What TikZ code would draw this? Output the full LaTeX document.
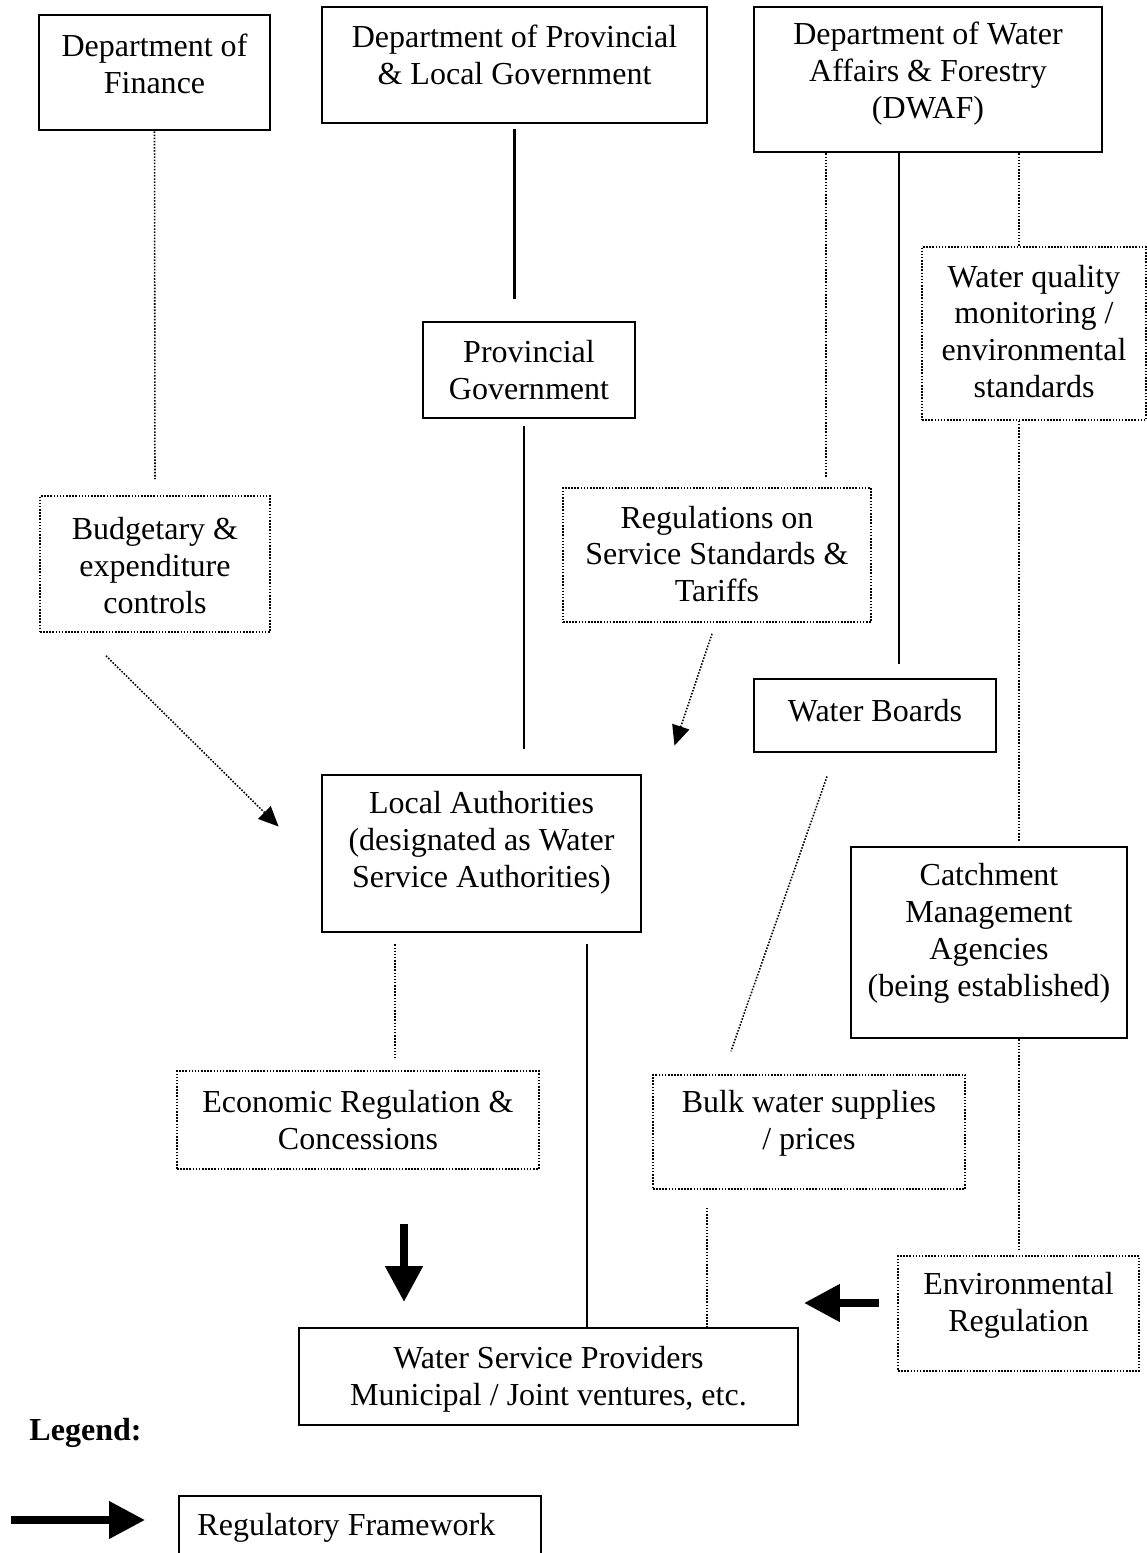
\documentclass[tikz,border=0pt]{standalone}
\usepackage{fontspec}
\setmainfont{Liberation Serif}
\usetikzlibrary{calc,arrows.meta}
\newcommand\pxu{0.0135cm}
\tikzset{
  sbox/.style={draw, line width=1.1pt, inner sep=0pt},
  dbox/.style={draw, line width=0.6pt, dash pattern=on 0.6pt off 0.6pt, inner sep=0pt},
  legbox/.style={draw, line width=0.8pt, inner sep=0pt},
  txt/.style={align=center, inner sep=0pt, font=\fontsize{12.3}{14.2}\selectfont},
  solidline/.style={line width=0.8pt},
  dotline/.style={line width=0.6pt, dash pattern=on 0.6pt off 0.6pt},
  dotarrow/.style={dotline, -{Triangle[length=0.27cm, width=0.24cm]}},
  fatarrow/.style={line width=0.108cm, -{Triangle[length=0.486cm, width=0.486cm]}}
}
\begin{document}
\begin{tikzpicture}[x=\pxu, y=-\pxu]
            \useasboundingbox (0,0) rectangle (1147,1553);
            \draw node (fin) [sbox, minimum width=231*\pxu, minimum height=115*\pxu,
                label={[txt, yshift=9*\pxu]center:Department of\\Finance}] at (154.5,72.5) {};
            \draw node (plg) [sbox, minimum width=385*\pxu, minimum height=116*\pxu,
                label={[txt, yshift=10*\pxu]center:Department of Provincial\\\& Local Government}] at (514.5,65) {};
            \draw node (dwaf) [sbox, minimum width=348*\pxu, minimum height=145*\pxu,
                label={[txt, yshift=5.5*\pxu]center:Department of Water\\Affairs \& Forestry\\(DWAF)}] at (928,79.5) {};
            \draw node (pg) [sbox, minimum width=212*\pxu, minimum height=96*\pxu,
                label={[txt]center:Provincial\\Government}] at (529,370) {};
            \draw node (wq) [dbox, minimum width=224*\pxu, minimum height=173*\pxu,
                label={[txt, yshift=2*\pxu]center:Water quality\\monitoring /\\environmental\\standards}] at (1034,333.5) {};
            \draw node (bud) [dbox, minimum width=230*\pxu, minimum height=136*\pxu,
                label={[txt, yshift=-1.7*\pxu]center:Budgetary \&\\expenditure\\controls}] at (155,564) {};
            \draw node (reg) [dbox, minimum width=308*\pxu, minimum height=134*\pxu,
                label={[txt, yshift=1*\pxu]center:Regulations on\\Service Standards \&\\Tariffs}] at (717,555) {};
            \draw node (wb) [sbox, minimum width=242*\pxu, minimum height=73*\pxu,
                label={[txt, yshift=4.5*\pxu]center:Water Boards}] at (875,715.5) {};
            \draw node (la) [sbox, minimum width=319*\pxu, minimum height=157*\pxu,
                label={[txt, yshift=11*\pxu]center:Local Authorities\\(designated as Water\\Service Authorities)}] at (481.5,853.5) {};
            \draw node (cma) [sbox, minimum width=276*\pxu, minimum height=191*\pxu,
                label={[txt, yshift=9*\pxu]center:Catchment\\Management\\Agencies\\(being established)}] at (989,942.5) {};
            \draw node (eco) [dbox, minimum width=362*\pxu, minimum height=98*\pxu,
                label={[txt]center:Economic Regulation \&\\Concessions}] at (358,1120) {};
            \draw node (bulk) [dbox, minimum width=312*\pxu, minimum height=114*\pxu,
                label={[txt, yshift=8.5*\pxu]center:Bulk water supplies\\/ prices}] at (809,1132) {};
            \draw node (env) [dbox, minimum width=241*\pxu, minimum height=115*\pxu,
                label={[txt, yshift=8.5*\pxu]center:Environmental\\Regulation}] at (1018.5,1313.5) {};
            \draw node (wsp) [sbox, minimum width=499*\pxu, minimum height=97*\pxu,
                label={[txt, yshift=-3*\pxu]center:{Water Service Providers\\Municipal / Joint ventures, etc.}}] at (548.5,1376.5) {};

            \draw[dotline] (fin.south) -- ($(bud.north)+(0,-16)$);
            \draw[solidline] ($(plg.south)+(0,5)$) -- ($(plg.south |- pg.north)+(0,-22)$);
            \draw[solidline] ($(pg.south)+(-5,7)$) -- ($(pg.south |- la.north)+(-5,-25)$);
            \draw[solidline] ($(dwaf.south)+(-29,0)$) -- ($(dwaf.south |- wb.north)+(-29,-14)$);
            \draw[dotline] ($(dwaf.south)+(-102,0)$) -- ($(dwaf.south |- reg.north)+(-102,-10)$);
            \draw[dotline] ($(dwaf.south)+(91,0)$) -- ($(dwaf.south |- wq.north)+(91,0)$);
            \draw[dotline] ($(wq.south)+(-15,0)$) -- ($(wq.south |- cma.north)+(-15,-5)$);
            \draw[dotline] ($(cma.south)+(30,0)$) -- ($(cma.south |- env.north)+(30,-6)$);
            \draw[dotarrow] ($(bud.south)+(-49,23)$) -- ($(la.west)+(-42,-27)$);
            \draw[dotarrow] ($(reg.south)+(-5,11)$) -- ($(la.north east)+(32,-28)$);
            \draw[dotline] ($(la.south)+(-86.5,11)$) -- ($(la.south |- eco.north)+(-86.5,-13)$);
            \draw[solidline] ($(la.south)+(105.5,11)$) -- ($(la.south |- wsp.north)+(105.5,0)$);
            \draw[dotline] ($(wb.south)+(-48,23)$) -- ($(bulk.north)+(-78,-23)$);
            \draw[dotline] ($(bulk.south)+(-102,18)$) -- ($(bulk.south |- wsp.north)+(-102,0)$);

            \coordinate (ecoarr) at (404,1224);
            \coordinate (ecotip) at (404,1302);
            \draw[fatarrow] (ecoarr) -- (ecotip);
            \coordinate (envarr) at (879,1303);
            \coordinate (envtip) at (804,1303);
            \draw[fatarrow] (envarr) -- (envtip);

            \draw node (legend) [txt, font=\fontsize{12.3}{14.2}\selectfont\bfseries] at (85.5,1433) {Legend:};
            \coordinate (legarr) at (11,1520);
            \coordinate (legtip) at (145,1520);
            \draw[fatarrow, line width=0.1cm] (legarr) -- (legtip);
            \draw node (framework) [legbox, minimum width=362*\pxu, minimum height=88*\pxu,
                label={[txt, anchor=west, xshift=19*\pxu, yshift=12*\pxu]west:Regulatory Framework}] at (360,1540) {};
\end{tikzpicture}
\end{document}
